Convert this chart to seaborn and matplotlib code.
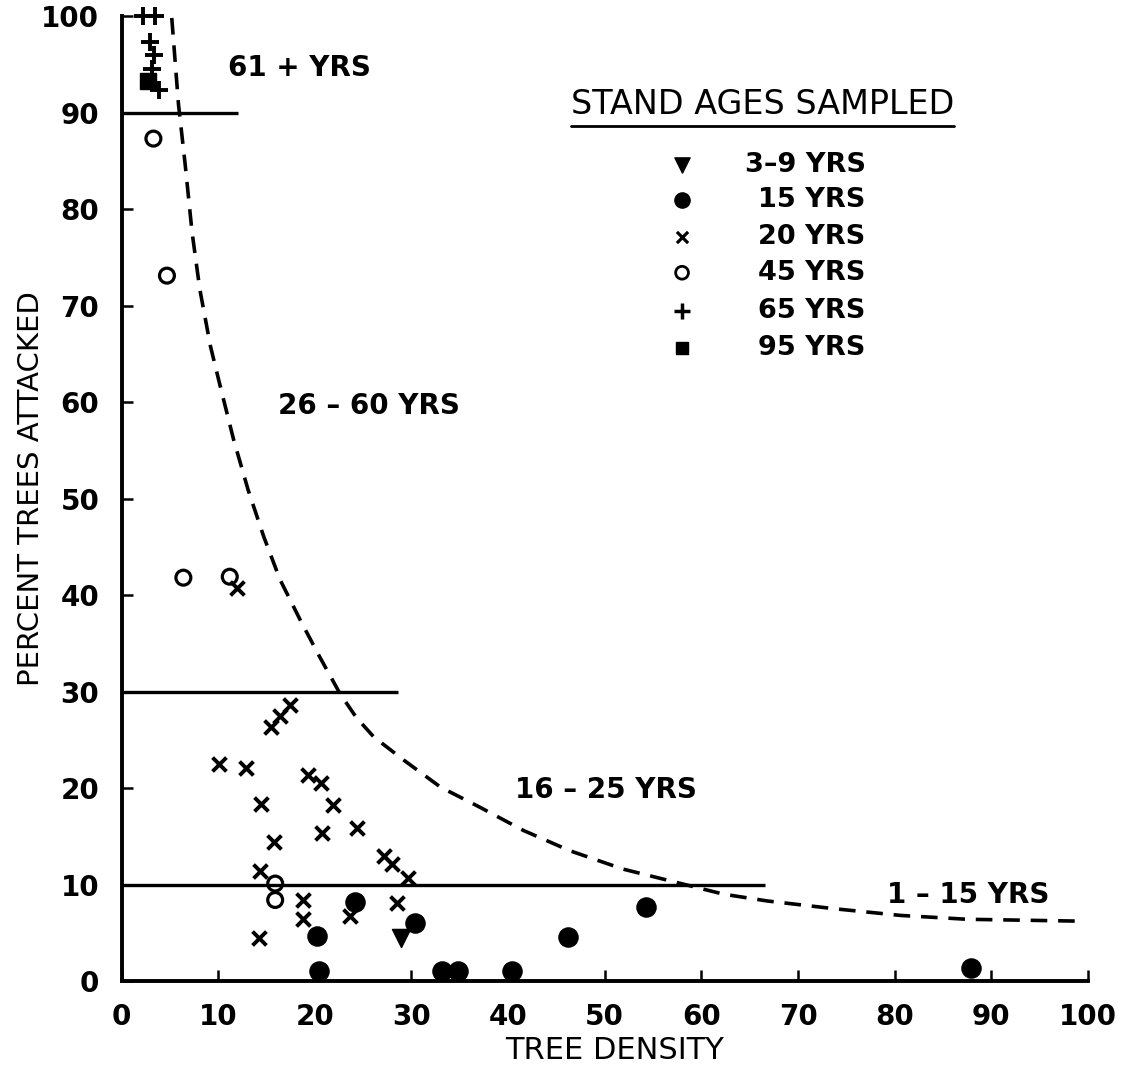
import matplotlib
matplotlib.use("Agg")
import matplotlib.pyplot as plt
import seaborn as sns
from matplotlib.lines import Line2D

# ---------------- data ----------------
age_3_9_x = [28.9]
age_3_9_y = [4.5]

age_15_x = [20.2, 20.4, 24.2, 30.4, 33.2, 34.8, 40.4, 46.2, 54.3, 87.9]
age_15_y = [4.7, 1.0, 8.2, 6.0, 1.0, 1.0, 1.0, 4.6, 7.7, 1.4]

age_20_x = [11.9, 15.5, 16.4, 17.4, 10.1, 12.9, 19.3, 20.6, 14.4, 21.9, 20.7,
            24.4, 15.8, 27.2, 28.0, 29.6, 14.3, 18.8, 18.8, 23.6, 28.5, 14.2]
age_20_y = [40.7, 26.3, 27.5, 28.6, 22.5, 22.1, 21.3, 20.5, 18.3, 18.2, 15.3,
            15.9, 14.4, 13.0, 12.1, 10.7, 11.4, 8.4, 6.4, 6.7, 8.1, 4.5]

age_45_x = [3.3, 4.7, 6.4, 11.2, 15.9, 15.9]
age_45_y = [87.3, 73.1, 41.8, 41.9, 10.1, 8.4]

age_65_x = [2.2, 3.5, 2.9, 3.4, 3.2, 3.9]
age_65_y = [100.0, 100.0, 97.3, 96.0, 94.5, 92.3]

age_95_x = [2.7]
age_95_y = [93.3]

curve_x = [5.2, 5.9, 6.6, 7.3, 8.1, 9.2, 10.2, 11.6, 13.1, 14.7, 16.4, 18.5,
           20.5, 22.6, 24.3, 26.1, 29.2, 33.0, 37.1, 41.6, 46.4, 51.9, 57.5,
           62.3, 66.8, 73.7, 80.6, 87.5, 99.6]
curve_y = [99.8, 90.8, 84.5, 77.6, 71.7, 65.8, 61.7, 56.1, 50.9, 46.1, 41.6,
           37.4, 33.6, 29.8, 27.3, 25.3, 22.9, 20.1, 18.0, 15.6, 13.5, 11.6,
           10.2, 9.0, 8.3, 7.5, 6.8, 6.4, 6.2]

boundary_y = [90, 30, 10]
boundary_xmax = [12.1, 28.6, 66.6]

region_labels = ["61 + YRS", "26 \u2013 60 YRS", "16 \u2013 25 YRS", "1 \u2013 15 YRS"]
region_x = [11.0, 16.2, 40.7, 79.2]
region_y = [94.6, 59.6, 19.8, 8.9]

legend_labels = ["3\u20139 YRS", "15 YRS", "20 YRS", "45 YRS", "65 YRS", "95 YRS"]
x_ticks = list(range(0, 101, 10))
y_ticks = list(range(0, 101, 10))

# ---------------- drawing ----------------
sns.set_theme(style="ticks")
plt.rcParams["font.family"] = ["DejaVu Sans"]

fig = plt.figure(figsize=(11.23, 10.77), dpi=100)
ax = fig.add_axes([0.1082, 0.0891, 0.8606, 0.8960])

groups = [
    (age_3_9_x, age_3_9_y, dict(marker="v", s=170, color="black", edgecolor="black", linewidth=1)),
    (age_15_x, age_15_y, dict(marker="o", s=190, color="black", edgecolor="black", linewidth=1)),
    (age_20_x, age_20_y, dict(marker="x", s=100, color="black", linewidth=2.8)),
    (age_45_x, age_45_y, dict(marker="o", s=115, facecolor="none", edgecolor="black", linewidth=2.3)),
    (age_65_x, age_65_y, dict(marker="+", s=160, color="black", linewidth=2.8)),
    (age_95_x, age_95_y, dict(marker="s", s=130, color="black", edgecolor="black", linewidth=1)),
]
for gx, gy, kw in groups:
    sns.scatterplot(x=gx, y=gy, ax=ax, clip_on=False, zorder=4, legend=False, **kw)

sns.lineplot(x=curve_x, y=curve_y, ax=ax, color="black", linewidth=2.6,
             sort=False, estimator=None)
ax.lines[-1].set_dashes((4.6, 3.0))

ax.hlines(boundary_y, 0, boundary_xmax, color="black", linewidth=2.4, zorder=3)

ax.set_xlim(0, 100)
ax.set_ylim(0, 100)
ax.set_xticks(x_ticks)
ax.set_yticks(y_ticks)
ax.set_xticklabels([str(t) for t in x_ticks])
ax.set_yticklabels([str(t) for t in y_ticks])
ax.tick_params(axis="both", direction="in", length=8, width=1.8,
               labelsize=20, pad=16, colors="black")
for lab in ax.get_xticklabels() + ax.get_yticklabels():
    lab.set_fontweight("bold")
sns.despine(ax=ax)
for side in ("left", "bottom"):
    ax.spines[side].set_linewidth(2.8)
    ax.spines[side].set_color("black")

ax.set_xlabel("TREE DENSITY", fontsize=22, color="black")
ax.set_ylabel("PERCENT TREES ATTACKED", fontsize=21, color="black")
ax.xaxis.set_label_coords(0.51, -0.057)
ax.yaxis.set_label_coords(-0.079, 0.51)

for txt, tx, ty in zip(region_labels, region_x, region_y):
    ax.text(tx, ty, txt, fontsize=20, fontweight="bold", ha="left", va="center",
            color="black")

# legend block
title = ax.text(46.5, 90.8, "STAND AGES SAMPLED", fontsize=24, ha="left",
                va="center", color="black")
leg_marker_x = 58.0
leg_rows_y = [84.6, 80.9, 77.1, 73.4, 69.4, 65.6]
leg_styles = [
    dict(marker="v", s=120, color="black"),
    dict(marker="o", s=120, color="black"),
    dict(marker="x", s=65, color="black", linewidth=2.3),
    dict(marker="o", s=85, facecolor="none", edgecolor="black", linewidth=2.0),
    dict(marker="+", s=120, color="black", linewidth=2.5),
    dict(marker="s", s=85, color="black"),
]
for lbl, ry, st in zip(legend_labels, leg_rows_y, leg_styles):
    ax.scatter([leg_marker_x], [ry], zorder=4, **st)
    ax.text(77.0, ry, lbl, fontsize=19.5, fontweight="bold", ha="right",
            va="center", color="black")

fig.canvas.draw()
bb = title.get_window_extent(fig.canvas.get_renderer())
fig.add_artist(Line2D([bb.x0, bb.x1], [bb.y0 - 5, bb.y0 - 5], transform=None,
                      color="black", linewidth=2.0))

fig.savefig("out.png", dpi=100, facecolor="white")
